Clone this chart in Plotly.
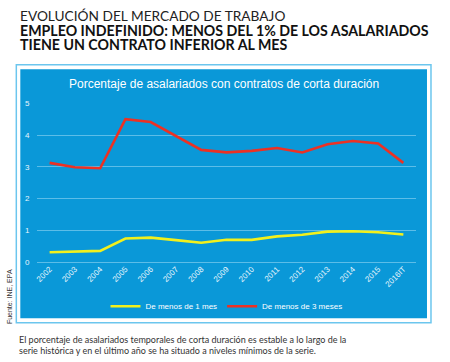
import plotly.graph_objects as go

years = ["2002", "2003", "2004", "2005", "2006", "2007", "2008", "2009",
         "2010", "2011", "2012", "2013", "2014", "2015", "2016IT"]
menos_1_mes = [0.31, 0.32, 0.35, 0.74, 0.77, 0.69, 0.61, 0.70,
               0.70, 0.81, 0.86, 0.96, 0.97, 0.94, 0.87]
menos_3_meses = [3.13, 2.99, 2.96, 4.51, 4.42, 3.98, 3.54, 3.46,
                 3.51, 3.60, 3.46, 3.72, 3.82, 3.74, 3.13]
y_ticks = [0, 1, 2, 3, 4, 5]

W, H = 450, 362
L, R, T, B = 36.7, 34, 102.7, 100.3
pw, ph = W - L - R, H - T - B


def px(x):
    return (x - L) / pw


def py(y):
    return (H - B - y) / ph


BLUE = "#0a98d8"
GRID = "#5cbde8"

fig = go.Figure()
fig.add_trace(go.Scatter(x=years, y=menos_1_mes, mode="lines", name="De menos de 1 mes",
                         line=dict(color="#f2f01c", width=2.6)))
fig.add_trace(go.Scatter(x=years, y=menos_3_meses, mode="lines", name="De menos de 3 meses",
                         line=dict(color="#ec3124", width=2.6)))

shapes = [
    dict(type="rect", xref="paper", yref="paper", x0=px(16), x1=px(431), y0=py(64.5), y1=py(322.5),
         line=dict(color="#6cc6ee", width=1.5), fillcolor="white", layer="below"),
    dict(type="rect", xref="paper", yref="paper", x0=px(20), x1=px(427), y0=py(69), y1=py(318),
         line=dict(width=0), fillcolor=BLUE, layer="below"),
]

annotations = [
    dict(text="EVOLUCIÓN DEL MERCADO DE TRABAJO", xref="paper", yref="paper",
         x=px(18), y=py(15.5), xanchor="left", yanchor="middle", showarrow=False,
         font=dict(family="Lato", size=13.7, color="#222222")),
    dict(text="<b>EMPLEO INDEFINIDO: MENOS DEL 1% DE LOS ASALARIADOS</b>", xref="paper", yref="paper",
         x=px(18), y=py(30), xanchor="left", yanchor="middle", showarrow=False,
         font=dict(family="Lato", size=14.2, color="#111111")),
    dict(text="<b>TIENE UN CONTRATO INFERIOR AL MES</b>", xref="paper", yref="paper",
         x=px(18), y=py(44.5), xanchor="left", yanchor="middle", showarrow=False,
         font=dict(family="Lato", size=14.2, color="#111111")),
    dict(text="Porcentaje de asalariados con contratos de corta duración", xref="paper", yref="paper",
         x=px(224), y=py(84), xanchor="center", yanchor="middle", showarrow=False,
         font=dict(family="Liberation Sans", size=12, color="white")),
    dict(text="Fuente: INE, EPA", xref="paper", yref="paper", textangle=-90,
         x=px(8.5), y=py(296), xanchor="center", yanchor="middle", showarrow=False,
         font=dict(family="Liberation Sans", size=7, color="#333333")),
    dict(text="El porcentaje de asalariados temporales de corta duración es estable a lo largo de la",
         xref="paper", yref="paper", x=px(17), y=py(339.5), xanchor="left", yanchor="middle",
         showarrow=False, font=dict(family="Lato", size=9, color="#333333")),
    dict(text="serie histórica y en el último año se ha situado a niveles mínimos de la serie.",
         xref="paper", yref="paper", x=px(17), y=py(350), xanchor="left", yanchor="middle",
         showarrow=False, font=dict(family="Lato", size=9, color="#333333")),
]

fig.update_layout(
    width=W, height=H,
    margin=dict(l=L, r=R, t=T, b=B),
    paper_bgcolor="white", plot_bgcolor="rgba(0,0,0,0)",
    shapes=shapes, annotations=annotations,
    showlegend=True,
    legend=dict(orientation="h", x=0.5, xanchor="center", y=py(306), yanchor="middle",
                bgcolor="rgba(0,0,0,0)", font=dict(family="Liberation Sans", size=8, color="white"),
                itemwidth=30, tracegroupgap=0),
    xaxis=dict(type="category", range=[-0.5, 14.5], showgrid=False, zeroline=False, showline=False,
               ticks="", tickangle=-45, tickfont=dict(family="Liberation Sans", size=8, color="#e8f6fd")),
    yaxis=dict(range=[0, 5.02], tickvals=y_ticks, showgrid=True, gridcolor=GRID, gridwidth=1.2,
               zeroline=True, zerolinecolor=GRID, zerolinewidth=1.2, showline=False,
               ticks="outside", ticklen=5, tickcolor="rgba(0,0,0,0)",
               tickfont=dict(family="Liberation Sans", size=8, color="#e8f6fd")),
)

fig.write_html("out.html", config={"displayModeBar": False},
               post_script="document.body.style.margin='0';document.body.style.overflow='hidden';")
